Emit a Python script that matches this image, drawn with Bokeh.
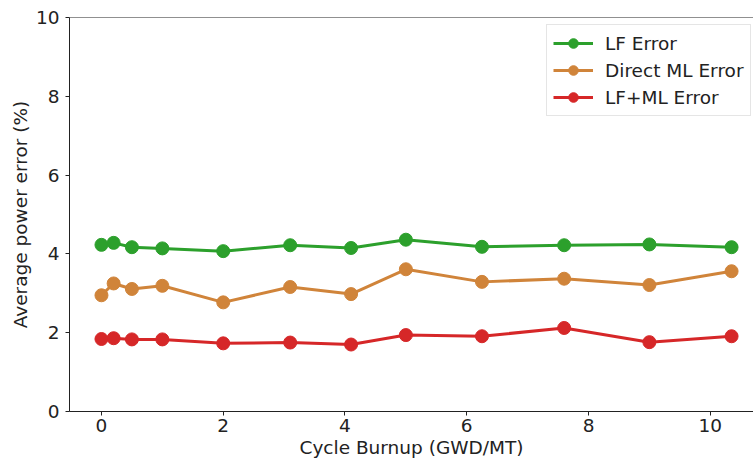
from bokeh.plotting import figure
from bokeh.models import Range1d, FixedTicker, Legend, LegendItem, Span
from bokeh.embed import file_html
from bokeh.resources import INLINE

burnup = [0.0, 0.2, 0.5, 1.0, 2.0, 3.1, 4.1, 5.0, 6.25, 7.6, 9.0, 10.35]
lf_error = [4.23, 4.28, 4.17, 4.14, 4.07, 4.22, 4.15, 4.36, 4.18, 4.22, 4.24, 4.17]
direct_ml_error = [2.95, 3.25, 3.11, 3.19, 2.77, 3.16, 2.98, 3.61, 3.29, 3.37, 3.21, 3.56]
lf_ml_error = [1.84, 1.86, 1.83, 1.83, 1.73, 1.75, 1.70, 1.94, 1.91, 2.12, 1.76, 1.91]

series = [
    ("LF Error", lf_error, "#2ca02c"),
    ("Direct ML Error", direct_ml_error, "#d0843a"),
    ("LF+ML Error", lf_ml_error, "#d62728"),
]

FONT = "DejaVu Sans"
FS = "18.5px"

p = figure(width=753, height=461, output_backend="svg", toolbar_location=None,
           x_range=Range1d(-0.525, 10.71), y_range=Range1d(0, 10),
           min_border_left=69, min_border_right=0, min_border_top=17, min_border_bottom=50)
p.grid.visible = False
p.outline_line_color = None
p.background_fill_color = "white"
p.border_fill_color = "white"

for ax in (p.xaxis[0], p.yaxis[0]):
    ax.major_label_text_font = FONT
    ax.major_label_text_font_size = FS
    ax.major_label_text_color = "#222222"
    ax.axis_label_text_font = FONT
    ax.axis_label_text_font_size = FS
    ax.axis_label_text_font_style = "normal"
    ax.axis_label_text_color = "#222222"
    ax.axis_line_color = "#222222"
    ax.major_tick_line_color = "#222222"
    ax.major_tick_out = 4
    ax.major_tick_in = 0
    ax.minor_tick_line_color = None

p.xaxis.ticker = FixedTicker(ticks=[0, 2, 4, 6, 8, 10])
p.yaxis.ticker = FixedTicker(ticks=[0, 2, 4, 6, 8, 10])
p.xaxis.axis_label = "Cycle Burnup (GWD/MT)"
p.yaxis.axis_label = "Average power error (%)"
p.xaxis.axis_label_standoff = 2
p.yaxis.axis_label_standoff = 2
p.xaxis.major_label_standoff = 3
p.yaxis.major_label_standoff = 6

p.add_layout(Span(location=10, dimension="width", line_color="#222222", line_width=1))

items = []
for name, vals, color in series:
    r1 = p.line(burnup, vals, line_color=color, line_width=3)
    r2 = p.scatter(burnup, vals, size=13, fill_color=color, line_color=color)
    items.append(LegendItem(label=name, renderers=[r1, r2]))

legend = Legend(items=items, location=(477, 295))
legend.label_text_font = FONT
legend.label_text_font_size = FS
legend.label_text_color = "#222222"
legend.glyph_width = 40
legend.glyph_height = 24
legend.label_height = 24
legend.label_standoff = 12
legend.spacing = 3
legend.padding = 6
legend.margin = 0
legend.border_line_color = "#cccccc"
legend.border_line_width = 1
legend.background_fill_alpha = 0.9
p.add_layout(legend)

open("out.html", "w").write(file_html(p, INLINE))
